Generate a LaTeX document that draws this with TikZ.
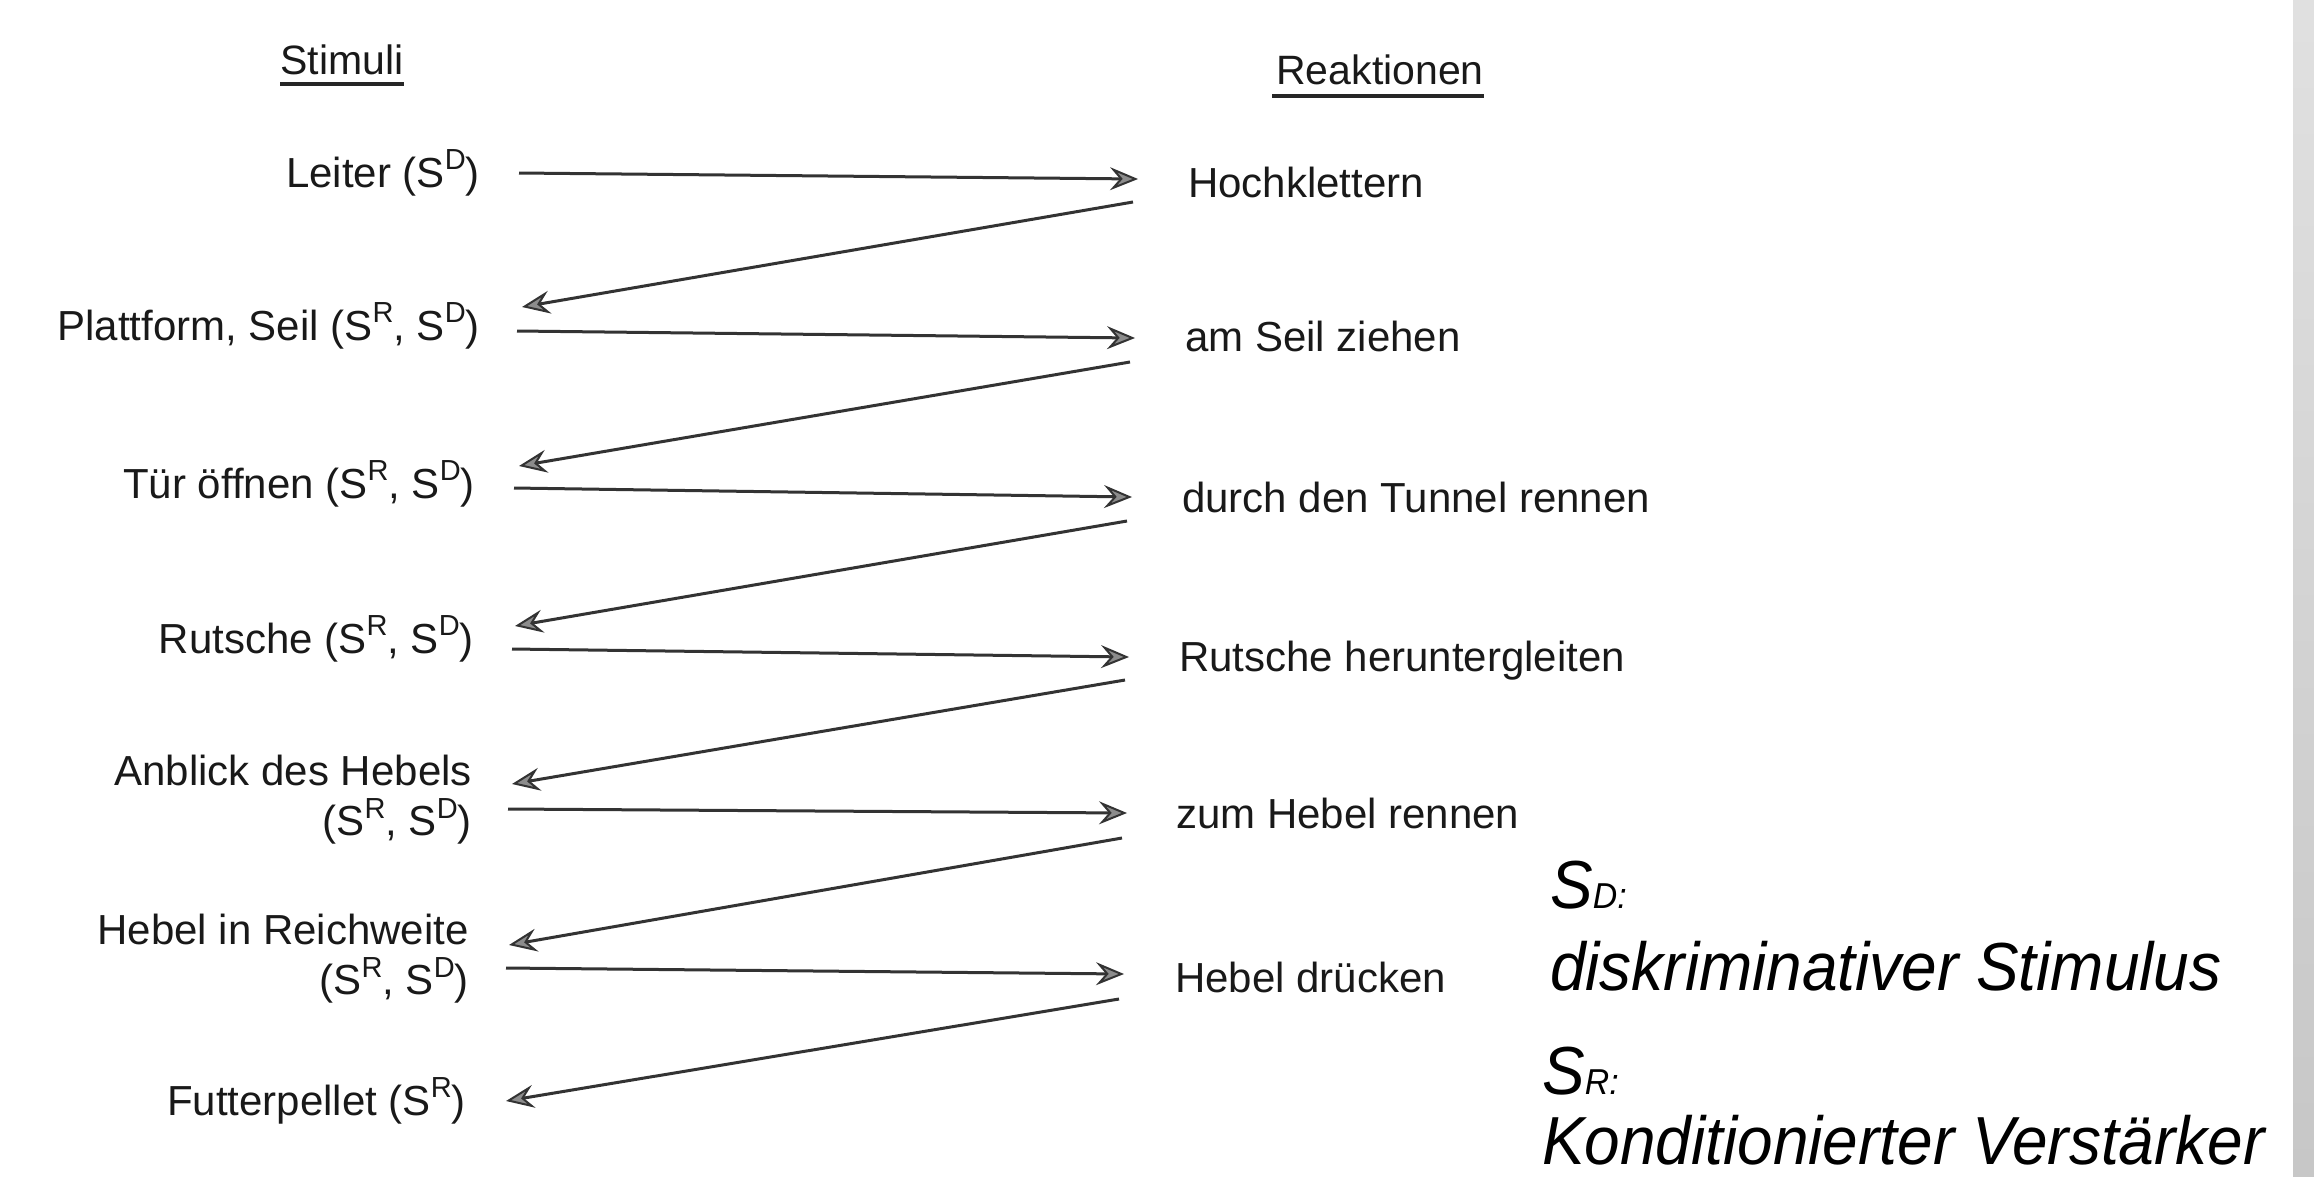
\documentclass[tikz,border=0pt]{standalone}
\usepackage{fontspec}
\setmainfont{Liberation Sans}
\usetikzlibrary{arrows.meta}
\newcommand\supx[1]{\raisebox{0.42em}{\fontsize{29}{29}\selectfont #1}}
\newcommand\narrowx[1]{\scalebox{0.94}[1]{#1}}
\begin{document}
\begin{tikzpicture}[x=1pt,y=-1pt,
  every node/.style={inner sep=0pt, text=black!90},
  lbl/.style={font=\fontsize{42}{50}\selectfont},
  head/.style={font=\fontsize{41}{48}\selectfont},
  legend/.style={font=\fontsize{68}{74}\selectfont\itshape, text=black},
  conn/.style={draw=black!80, line width=3pt,
    -{Stealth[length=28pt,width=23pt,inset=10pt,fill=black!45,line width=2pt]}},
  uline/.style={draw=black!85, line width=3.5pt}]
\useasboundingbox (0,0) rectangle (2314,1176);
\fill[white] (0,0) rectangle (2314,1176);
\shade[top color=black!12, bottom color=black!22] (2293,0) rectangle (2314,1176);

% headings
\node[head, anchor=base] (stim) at (342,74) {Stimuli};
\draw[uline] (stim.west |- 0,84) -- (stim.east |- 0,84);
\node[head, anchor=base] (reak) at (1380,84) {Reaktionen};
\draw[uline] ([xshift=-4pt]reak.west |- 0,96) -- (reak.east |- 0,96);

% stimuli
\node[lbl, anchor=east] (s1) at (480,173) {Leiter (S\supx{D})};
\node[lbl, anchor=east] (s2) at (480,326) {Plattform, Seil (S\supx{R}, S\supx{D})};
\node[lbl, anchor=east] (s3) at (475,484) {Tür öffnen (S\supx{R}, S\supx{D})};
\node[lbl, anchor=east] (s4) at (474,639) {Rutsche (S\supx{R}, S\supx{D})};
\node[lbl, anchor=east, align=right] (s5) at (472,800) {Anblick des Hebels\\(S\supx{R}, S\supx{D})};
\node[lbl, anchor=east, align=right] (s6) at (469,959) {Hebel in Reichweite\\(S\supx{R}, S\supx{D})};
\node[lbl, anchor=east] (s7) at (466,1101) {Futterpellet (S\supx{R})};

% reactions
\node[lbl, anchor=west] (r1) at (1188,182) {Hochklettern};
\node[lbl, anchor=west] (r2) at (1185,336) {am Seil ziehen};
\node[lbl, anchor=west] (r3) at (1182,497) {durch den Tunnel rennen};
\node[lbl, anchor=west] (r4) at (1179,661) {Rutsche heruntergleiten};
\node[lbl, anchor=west] (r5) at (1176,813) {zum Hebel rennen};
\node[lbl, anchor=west] (r6) at (1175,977) {Hebel drücken};

% arrow end points
\coordinate (f1a) at (519,173);  \coordinate (f1b) at (1138,179);
\coordinate (f2a) at (517,331);  \coordinate (f2b) at (1135,338);
\coordinate (f3a) at (514,488);  \coordinate (f3b) at (1132,497);
\coordinate (f4a) at (512,649);  \coordinate (f4b) at (1129,657);
\coordinate (f5a) at (508,809);  \coordinate (f5b) at (1127,813);
\coordinate (f6a) at (506,968);  \coordinate (f6b) at (1124,974);
\coordinate (b1a) at (1133,202); \coordinate (b1b) at (522,307);
\coordinate (b2a) at (1130,362); \coordinate (b2b) at (519,466);
\coordinate (b3a) at (1127,521); \coordinate (b3b) at (515,626);
\coordinate (b4a) at (1125,680); \coordinate (b4b) at (512,784);
\coordinate (b5a) at (1122,838); \coordinate (b5b) at (509,945);
\coordinate (b6a) at (1119,999); \coordinate (b6b) at (506,1101);

\foreach \i in {1,...,6} {
  \draw[conn] (f\i a) -- (f\i b);
  \draw[conn] (b\i a) -- (b\i b);
}

% legend
\node[legend, anchor=base west] (sd) at (1550,908) {\narrowx{S\fontsize{36}{36}\selectfont D:}};
\node[legend, anchor=base west] (sdt) at (1550,990) {\narrowx{diskriminativer Stimulus}};
\node[legend, anchor=base west] (sr) at (1542,1094) {\narrowx{S\fontsize{36}{36}\selectfont R:}};
\node[legend, anchor=base west] (srt) at (1542,1164) {\narrowx{Konditionierter Verstärker}};
\end{tikzpicture}
\end{document}
